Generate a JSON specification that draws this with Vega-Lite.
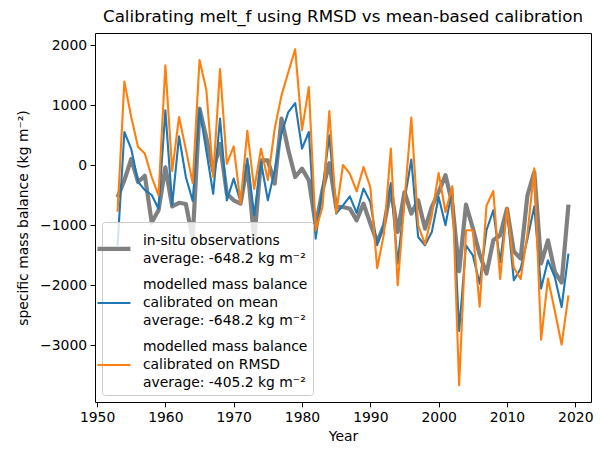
{
  "$schema": "https://vega.github.io/schema/vega-lite/v6.json",
  "width": 496,
  "height": 369,
  "autosize": "none",
  "padding": {"left": 95, "top": 33, "right": 10, "bottom": 53},
  "title": {
    "text": "Calibrating melt_f using RMSD vs mean-based calibration",
    "font": "DejaVu Sans",
    "fontSize": 16.7,
    "fontWeight": "normal",
    "color": "black",
    "anchor": "middle",
    "offset": 7
  },
  "config": {
    "font": "DejaVu Sans",
    "view": {"stroke": "black", "strokeWidth": 1},
    "axis": {
      "grid": false,
      "domain": false,
      "tickColor": "black",
      "tickSize": 4.9,
      "tickWidth": 1,
      "labelFont": "DejaVu Sans",
      "labelFontSize": 13.9,
      "labelColor": "black",
      "labelPadding": 3.5,
      "titleFont": "DejaVu Sans",
      "titleFontSize": 13.9,
      "titleFontWeight": "normal",
      "titleColor": "black"
    }
  },
  "data": {
    "values": [
      {"year": 1953, "series": "obs", "value": -540},
      {"year": 1954, "series": "obs", "value": -255},
      {"year": 1955, "series": "obs", "value": 100},
      {"year": 1956, "series": "obs", "value": -283},
      {"year": 1957, "series": "obs", "value": -180},
      {"year": 1958, "series": "obs", "value": -960},
      {"year": 1959, "series": "obs", "value": -755},
      {"year": 1960, "series": "obs", "value": -40},
      {"year": 1961, "series": "obs", "value": -690},
      {"year": 1962, "series": "obs", "value": -630},
      {"year": 1963, "series": "obs", "value": -650},
      {"year": 1964, "series": "obs", "value": -1230},
      {"year": 1965, "series": "obs", "value": 940},
      {"year": 1966, "series": "obs", "value": 450},
      {"year": 1967, "series": "obs", "value": -100},
      {"year": 1968, "series": "obs", "value": 350},
      {"year": 1969, "series": "obs", "value": -478},
      {"year": 1970, "series": "obs", "value": -588},
      {"year": 1971, "series": "obs", "value": -643},
      {"year": 1972, "series": "obs", "value": 0},
      {"year": 1973, "series": "obs", "value": -1250},
      {"year": 1974, "series": "obs", "value": 78},
      {"year": 1975, "series": "obs", "value": 78},
      {"year": 1976, "series": "obs", "value": -310},
      {"year": 1977, "series": "obs", "value": 773},
      {"year": 1978, "series": "obs", "value": 245},
      {"year": 1979, "series": "obs", "value": -200},
      {"year": 1980, "series": "obs", "value": -60},
      {"year": 1981, "series": "obs", "value": -255},
      {"year": 1982, "series": "obs", "value": -1005},
      {"year": 1983, "series": "obs", "value": -422},
      {"year": 1984, "series": "obs", "value": 30},
      {"year": 1985, "series": "obs", "value": -700},
      {"year": 1986, "series": "obs", "value": -700},
      {"year": 1987, "series": "obs", "value": -728},
      {"year": 1988, "series": "obs", "value": -922},
      {"year": 1989, "series": "obs", "value": -643},
      {"year": 1990, "series": "obs", "value": -977},
      {"year": 1991, "series": "obs", "value": -1283},
      {"year": 1992, "series": "obs", "value": -1005},
      {"year": 1993, "series": "obs", "value": -400},
      {"year": 1994, "series": "obs", "value": -1117},
      {"year": 1995, "series": "obs", "value": -450},
      {"year": 1996, "series": "obs", "value": -810},
      {"year": 1997, "series": "obs", "value": -588},
      {"year": 1998, "series": "obs", "value": -1060},
      {"year": 1999, "series": "obs", "value": -700},
      {"year": 2000, "series": "obs", "value": -450},
      {"year": 2001, "series": "obs", "value": -170},
      {"year": 2002, "series": "obs", "value": -643},
      {"year": 2003, "series": "obs", "value": -1770},
      {"year": 2004, "series": "obs", "value": -660},
      {"year": 2005, "series": "obs", "value": -1050},
      {"year": 2006, "series": "obs", "value": -1490},
      {"year": 2007, "series": "obs", "value": -1810},
      {"year": 2008, "series": "obs", "value": -1255},
      {"year": 2009, "series": "obs", "value": -1172},
      {"year": 2010, "series": "obs", "value": -728},
      {"year": 2011, "series": "obs", "value": -1440},
      {"year": 2012, "series": "obs", "value": -1560},
      {"year": 2013, "series": "obs", "value": -505},
      {"year": 2014, "series": "obs", "value": -117},
      {"year": 2015, "series": "obs", "value": -1640},
      {"year": 2016, "series": "obs", "value": -1255},
      {"year": 2017, "series": "obs", "value": -1780},
      {"year": 2018, "series": "obs", "value": -1960},
      {"year": 2019, "series": "obs", "value": -660},

      {"year": 1953, "series": "mean", "value": -1350},
      {"year": 1954, "series": "mean", "value": 550},
      {"year": 1955, "series": "mean", "value": 270},
      {"year": 1956, "series": "mean", "value": -280},
      {"year": 1957, "series": "mean", "value": -420},
      {"year": 1958, "series": "mean", "value": -500},
      {"year": 1959, "series": "mean", "value": -730},
      {"year": 1960, "series": "mean", "value": 910},
      {"year": 1961, "series": "mean", "value": -670},
      {"year": 1962, "series": "mean", "value": 480},
      {"year": 1963, "series": "mean", "value": -200},
      {"year": 1964, "series": "mean", "value": -600},
      {"year": 1965, "series": "mean", "value": 930},
      {"year": 1966, "series": "mean", "value": 230},
      {"year": 1967, "series": "mean", "value": -480},
      {"year": 1968, "series": "mean", "value": 773},
      {"year": 1969, "series": "mean", "value": -590},
      {"year": 1970, "series": "mean", "value": -227},
      {"year": 1971, "series": "mean", "value": -617},
      {"year": 1972, "series": "mean", "value": 107},
      {"year": 1973, "series": "mean", "value": -838},
      {"year": 1974, "series": "mean", "value": 50},
      {"year": 1975, "series": "mean", "value": -588},
      {"year": 1976, "series": "mean", "value": -88},
      {"year": 1977, "series": "mean", "value": 523},
      {"year": 1978, "series": "mean", "value": 883},
      {"year": 1979, "series": "mean", "value": 1033},
      {"year": 1980, "series": "mean", "value": 273},
      {"year": 1981, "series": "mean", "value": 550},
      {"year": 1982, "series": "mean", "value": -1227},
      {"year": 1983, "series": "mean", "value": -400},
      {"year": 1984, "series": "mean", "value": 495},
      {"year": 1985, "series": "mean", "value": -810},
      {"year": 1986, "series": "mean", "value": -672},
      {"year": 1987, "series": "mean", "value": -522},
      {"year": 1988, "series": "mean", "value": -800},
      {"year": 1989, "series": "mean", "value": -393},
      {"year": 1990, "series": "mean", "value": -617},
      {"year": 1991, "series": "mean", "value": -1338},
      {"year": 1992, "series": "mean", "value": -977},
      {"year": 1993, "series": "mean", "value": -300},
      {"year": 1994, "series": "mean", "value": -1643},
      {"year": 1995, "series": "mean", "value": -588},
      {"year": 1996, "series": "mean", "value": 90},
      {"year": 1997, "series": "mean", "value": -1200},
      {"year": 1998, "series": "mean", "value": -1338},
      {"year": 1999, "series": "mean", "value": -1117},
      {"year": 2000, "series": "mean", "value": -533},
      {"year": 2001, "series": "mean", "value": -1005},
      {"year": 2002, "series": "mean", "value": -393},
      {"year": 2003, "series": "mean", "value": -2767},
      {"year": 2004, "series": "mean", "value": -1338},
      {"year": 2005, "series": "mean", "value": -1505},
      {"year": 2006, "series": "mean", "value": -1977},
      {"year": 2007, "series": "mean", "value": -1088},
      {"year": 2008, "series": "mean", "value": -755},
      {"year": 2009, "series": "mean", "value": -1620},
      {"year": 2010, "series": "mean", "value": -728},
      {"year": 2011, "series": "mean", "value": -1922},
      {"year": 2012, "series": "mean", "value": -1727},
      {"year": 2013, "series": "mean", "value": -1230},
      {"year": 2014, "series": "mean", "value": -690},
      {"year": 2015, "series": "mean", "value": -2060},
      {"year": 2016, "series": "mean", "value": -1588},
      {"year": 2017, "series": "mean", "value": -1867},
      {"year": 2018, "series": "mean", "value": -2367},
      {"year": 2019, "series": "mean", "value": -1477},

      {"year": 1953, "series": "rmsd", "value": -780},
      {"year": 1954, "series": "rmsd", "value": 1390},
      {"year": 1955, "series": "rmsd", "value": 800},
      {"year": 1956, "series": "rmsd", "value": 300},
      {"year": 1957, "series": "rmsd", "value": 190},
      {"year": 1958, "series": "rmsd", "value": -200},
      {"year": 1959, "series": "rmsd", "value": -505},
      {"year": 1960, "series": "rmsd", "value": 1660},
      {"year": 1961, "series": "rmsd", "value": -100},
      {"year": 1962, "series": "rmsd", "value": 800},
      {"year": 1963, "series": "rmsd", "value": 260},
      {"year": 1964, "series": "rmsd", "value": -300},
      {"year": 1965, "series": "rmsd", "value": 1750},
      {"year": 1966, "series": "rmsd", "value": 1250},
      {"year": 1967, "series": "rmsd", "value": -200},
      {"year": 1968, "series": "rmsd", "value": 1600},
      {"year": 1969, "series": "rmsd", "value": 20},
      {"year": 1970, "series": "rmsd", "value": 310},
      {"year": 1971, "series": "rmsd", "value": -640},
      {"year": 1972, "series": "rmsd", "value": 570},
      {"year": 1973, "series": "rmsd", "value": -400},
      {"year": 1974, "series": "rmsd", "value": 270},
      {"year": 1975, "series": "rmsd", "value": -250},
      {"year": 1976, "series": "rmsd", "value": 600},
      {"year": 1977, "series": "rmsd", "value": 1160},
      {"year": 1978, "series": "rmsd", "value": 1550},
      {"year": 1979, "series": "rmsd", "value": 1930},
      {"year": 1980, "series": "rmsd", "value": 580},
      {"year": 1981, "series": "rmsd", "value": 1300},
      {"year": 1982, "series": "rmsd", "value": -1090},
      {"year": 1983, "series": "rmsd", "value": -700},
      {"year": 1984, "series": "rmsd", "value": 900},
      {"year": 1985, "series": "rmsd", "value": -800},
      {"year": 1986, "series": "rmsd", "value": 0},
      {"year": 1987, "series": "rmsd", "value": -143},
      {"year": 1988, "series": "rmsd", "value": -440},
      {"year": 1989, "series": "rmsd", "value": -33},
      {"year": 1990, "series": "rmsd", "value": -370},
      {"year": 1991, "series": "rmsd", "value": -1720},
      {"year": 1992, "series": "rmsd", "value": -1143},
      {"year": 1993, "series": "rmsd", "value": 273},
      {"year": 1994, "series": "rmsd", "value": -2005},
      {"year": 1995, "series": "rmsd", "value": -600},
      {"year": 1996, "series": "rmsd", "value": 790},
      {"year": 1997, "series": "rmsd", "value": -1000},
      {"year": 1998, "series": "rmsd", "value": -1320},
      {"year": 1999, "series": "rmsd", "value": -840},
      {"year": 2000, "series": "rmsd", "value": -133},
      {"year": 2001, "series": "rmsd", "value": -783},
      {"year": 2002, "series": "rmsd", "value": -355},
      {"year": 2003, "series": "rmsd", "value": -3672},
      {"year": 2004, "series": "rmsd", "value": -1088},
      {"year": 2005, "series": "rmsd", "value": -1088},
      {"year": 2006, "series": "rmsd", "value": -2360},
      {"year": 2007, "series": "rmsd", "value": -680},
      {"year": 2008, "series": "rmsd", "value": -433},
      {"year": 2009, "series": "rmsd", "value": -1900},
      {"year": 2010, "series": "rmsd", "value": -720},
      {"year": 2011, "series": "rmsd", "value": -1710},
      {"year": 2012, "series": "rmsd", "value": -1900},
      {"year": 2013, "series": "rmsd", "value": -1150},
      {"year": 2014, "series": "rmsd", "value": -55},
      {"year": 2015, "series": "rmsd", "value": -2910},
      {"year": 2016, "series": "rmsd", "value": -1893},
      {"year": 2017, "series": "rmsd", "value": -2430},
      {"year": 2018, "series": "rmsd", "value": -2995},
      {"year": 2019, "series": "rmsd", "value": -2172}
    ]
  },
  "encoding": {
    "x": {
      "field": "year",
      "type": "quantitative",
      "scale": {"domain": [1949.7, 2022.3], "nice": false, "zero": false},
      "axis": {"values": [1950, 1960, 1970, 1980, 1990, 2000, 2010, 2020], "format": "d", "title": "Year", "titlePadding": 5}
    },
    "y": {
      "field": "value",
      "type": "quantitative",
      "scale": {"domain": [-3950, 2200], "nice": false, "zero": false},
      "axis": {"values": [-3000, -2000, -1000, 0, 1000, 2000], "format": "d", "title": "specific mass balance (kg m⁻²)", "titlePadding": 9}
    },
    "color": {
      "field": "series",
      "type": "nominal",
      "scale": {"domain": ["obs", "mean", "rmsd"], "range": ["#808080", "#1f77b4", "#ff7f0e"]},
      "legend": {
        "title": null,
        "orient": "bottom-left",
        "offset": 7,
        "padding": 5,
        "fillColor": "rgba(255,255,255,0.8)",
        "strokeColor": "#cccccc",
        "cornerRadius": 3,
        "symbolType": "stroke",
        "symbolSize": 1089,
        "symbolStrokeWidth": 2,
        "labelFont": "DejaVu Sans",
        "labelFontSize": 13.9,
        "labelColor": "black",
        "labelBaseline": "top",
        "labelLimit": 300,
        "labelOffset": 22,
        "rowPadding": 5,
        "labelExpr": "datum.value == 'obs' ? ['in-situ observations', 'average: -648.2 kg m⁻²'] : datum.value == 'mean' ? ['modelled mass balance', 'calibrated on mean', 'average: -648.2 kg m⁻²'] : ['modelled mass balance', 'calibrated on RMSD', 'average: -405.2 kg m⁻²']",
        "encode": {
          "symbols": {
            "update": {
              "strokeWidth": {"signal": "datum.value == 'obs' ? 4.2 : 2.1"},
              "shape": {"signal": "datum.value == 'obs' ? 'M-1,0.91L1,0.91' : 'M-1,1.515L1,1.515'"}
            }
          },
          "labels": {"update": {"lineHeight": {"value": 18}}}
        }
      }
    }
  },
  "layer": [
    {
      "transform": [{"filter": "datum.series == 'obs'"}],
      "mark": {"type": "line", "strokeWidth": 4.2, "strokeJoin": "round"}
    },
    {
      "transform": [{"filter": "datum.series == 'mean'"}],
      "mark": {"type": "line", "strokeWidth": 2.1, "strokeJoin": "round"}
    },
    {
      "transform": [{"filter": "datum.series == 'rmsd'"}],
      "mark": {"type": "line", "strokeWidth": 2.1, "strokeJoin": "round"}
    }
  ]
}
